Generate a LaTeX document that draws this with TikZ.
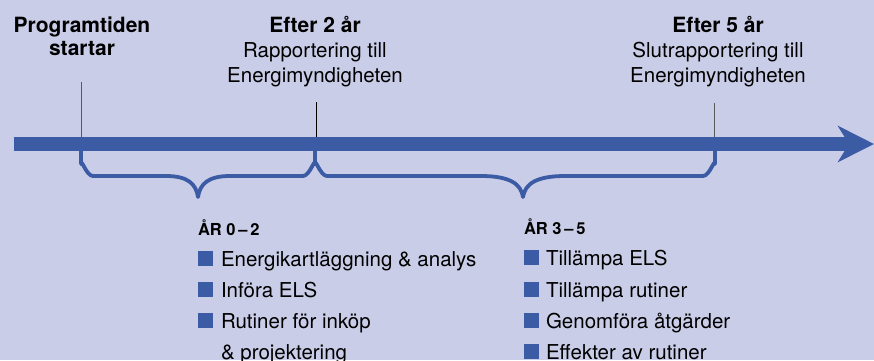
\documentclass[tikz,border=0pt]{standalone}
\usepackage{fontspec}
\setmainfont{TeX Gyre Heros}
\usetikzlibrary{arrows.meta}
\definecolor{elsbg}{HTML}{C9CDE7}
\definecolor{elsblue}{HTML}{3C5BA5}
\tikzset{
  every node/.style={inner sep=0pt, outer sep=0pt},
  toptext/.style={anchor=base, font=\fontsize{20.5}{24}\selectfont},
  boldtext/.style={anchor=base, font=\fontsize{21}{24}\selectfont\bfseries},
  head/.style={anchor=base west, font=\fontsize{16.5}{18}\selectfont\bfseries},
  item/.style={anchor=base west, font=\fontsize{20.5}{24}\selectfont},
  bullet/.style={fill=elsblue},
  tick/.style={line width=1pt},
  brace/.style={draw=elsblue, line width=3.8pt, line join=round},
}

\begin{document}
\begin{tikzpicture}[x=1pt,y=-1pt]
    \fill[elsbg] (0,0) rectangle (874,360);
    \clip (0,0) rectangle (874,360);
    % time line
    \coordinate (a0) at (14,144);
    \coordinate (a1) at (874,144);
    \draw[elsblue, line width=14pt, -{Stealth[length=36pt,width=36pt,inset=11pt]}] (a0) -- (a1);
    % top texts
    \node[boldtext] (start) at (82,32) {Programtiden};
    \node[boldtext] (start2) at (82,55) {startar};
    \node[boldtext] (year2) at (315,32) {Efter 2 år};
    \node[toptext] (year2a) at (315,57) {Rapportering till};
    \node[toptext] (year2b) at (315,82) {Energimyndigheten};
    \node[boldtext] (year5) at (718,32) {Efter 5 år};
    \node[toptext] (year5a) at (718,57) {Slutrapportering till};
    \node[toptext] (year5b) at (718,82) {Energimyndigheten};
    % ticks
    \coordinate (t0) at (81,82);   \coordinate (b0) at (81,137);
    \coordinate (t2) at (316,102); \coordinate (b2) at (316,137);
    \coordinate (t5) at (714,103); \coordinate (b5) at (714,137);
    \draw[tick, black!65] (t0) -- (b0);
    \draw[tick, black] (t2) -- (b2);
    \draw[tick, black!65] (t5) -- (b5);
    % braces
    \draw[brace] (81,150) -- (81,164) to[out=90,in=180] (93,176) -- (166,176)
        .. controls (188,176) and (196,184) .. (198,197)
        .. controls (200,184) and (208,176) .. (230,176) -- (303,176)
        to[out=0,in=90] (315,164) -- (315,150);
    \draw[brace] (315,164) to[out=90,in=180] (327,176) -- (481,176)
        .. controls (510,176) and (521,184) .. (523,197)
        .. controls (525,184) and (536,176) .. (565,176) -- (703,176)
        to[out=0,in=90] (715,164) -- (715,150);
    % year 0-2
    \node[head] (h1) at (198,235) {ÅR 0\,–\,2};
    \foreach \y/\txt in {266/Energikartläggning \& analys, 297/Införa ELS, 328/Rutiner för inköp}
      {\fill[bullet] (198,\y) rectangle +(15,-15);
       \node[item] (p\y) at (221,\y) {\txt};}
    \node[item] (p359) at (221,359) {\& projektering};
    % year 3-5
    \node[head] (h2) at (524,234) {ÅR 3\,–\,5};
    \foreach \y/\txt in {265/Tillämpa ELS, 297/Tillämpa rutiner, 328/Genomföra åtgärder, 359/Effekter av rutiner}
      {\fill[bullet] (524,\y) rectangle +(15,-15);
       \node[item] (q\y) at (546,\y) {\txt};}
\end{tikzpicture}
\end{document}
